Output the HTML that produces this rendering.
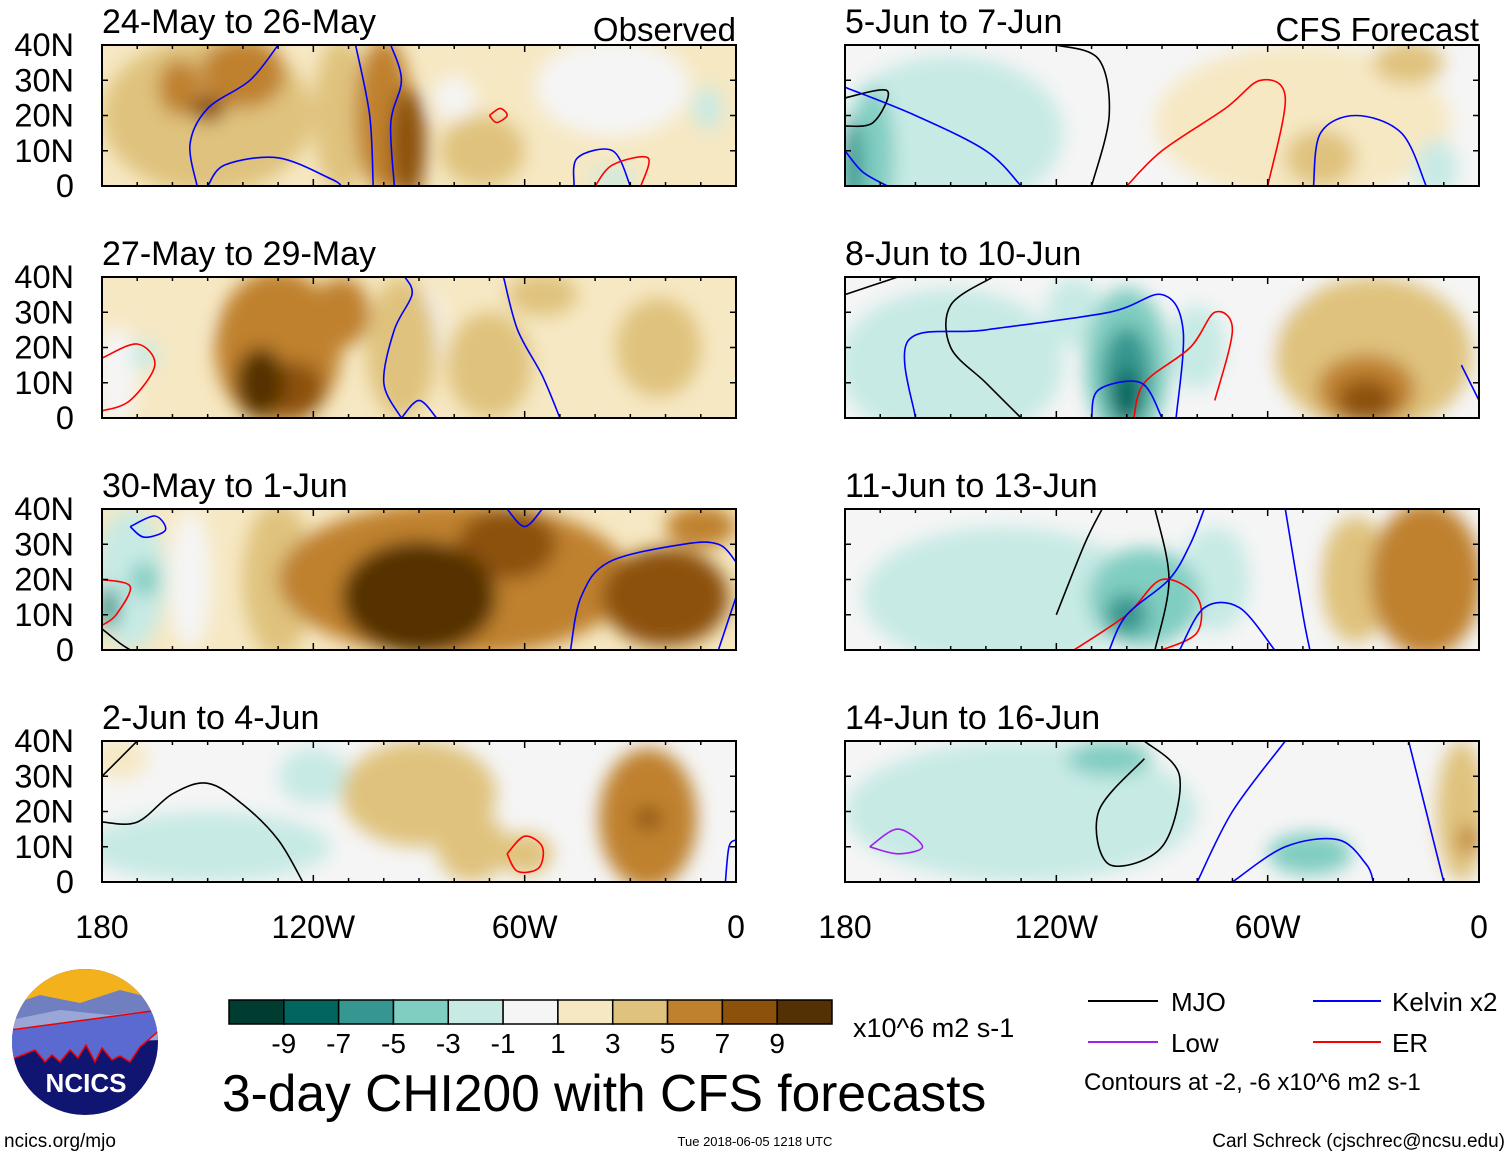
<!DOCTYPE html>
<html><head><meta charset="utf-8"><style>
body{margin:0;background:#fff;}
svg{display:block;font-family:"Liberation Sans",sans-serif;}
</style></head><body>
<svg id="fig" width="1510" height="1157" viewBox="0 0 1510 1157">
<defs>
<filter id="bl" x="-50%" y="-50%" width="200%" height="200%"><feGaussianBlur stdDeviation="9"/></filter>
<clipPath id="lgc"><circle cx="85" cy="1042" r="73"/></clipPath>
</defs>
<g id="panels"></g>
<g clip-path="url(#lgc)">
<rect x="10" y="965" width="150" height="160" fill="#0f1570"/>
<rect x="10" y="965" width="150" height="45" fill="#f3b21c"/>
<path d="M10 1005 L40 995 L80 1003 L120 990 L160 1000 L160 1030 L10 1040Z" fill="#6f7fbf"/>
<path d="M10 1020 L60 1010 L110 1015 L160 1010 L160 1040 L10 1045Z" fill="#9aa6d8"/>
<path d="M10 1060 L35 1050 L45 1062 L52 1055 L60 1062 L70 1050 L78 1058 L86 1045 L95 1062 L102 1048 L112 1060 L120 1056 L130 1062 L140 1047 L160 1030 L160 1010 L10 1030Z" fill="#5a6ad0" stroke="#e00" stroke-width="1.5"/>
</g>
<text x="86" y="1092" font-size="26" font-weight="bold" fill="#fff" text-anchor="middle">NCICS</text>
<text x="4" y="1147" font-size="19">ncics.org/mjo</text>
<text x="755" y="1146" font-size="13" text-anchor="middle">Tue 2018-06-05 1218 UTC</text>
<text x="1505" y="1147" font-size="19" text-anchor="end">Carl Schreck (cjschrec@ncsu.edu)</text>
<text x="222" y="1111" font-size="51.5">3-day CHI200 with CFS forecasts</text>
<g id="cbar"></g>
<text x="853" y="1037" font-size="27">x10^6 m2 s-1</text>
<g font-size="26">
<line x1="1088" y1="1001" x2="1158" y2="1001" stroke="#000" stroke-width="2"/><text x="1171" y="1011">MJO</text>
<line x1="1313" y1="1001" x2="1381" y2="1001" stroke="#0000ff" stroke-width="2"/><text x="1392" y="1011">Kelvin x2</text>
<line x1="1088" y1="1042" x2="1158" y2="1042" stroke="#a020f0" stroke-width="2"/><text x="1171" y="1052">Low</text>
<line x1="1313" y1="1042" x2="1381" y2="1042" stroke="#ff0000" stroke-width="2"/><text x="1392" y="1052">ER</text>
<text x="1084" y="1090" font-size="24">Contours at -2, -6 x10^6 m2 s-1</text>
</g>
</svg>
<script>
const cbLabels=["-9","-7","-5","-3","-1","1","3","5","7","9"];
const cbColors=["#003c30","#01665e","#35978f","#80cdc1","#c7eae5","#f5f5f5","#f6e8c3","#dfc27d","#bf812d","#8c510a","#543005"];
const latTicks=["40N","30N","20N","10N","0"];
const lonTicks=["180","120W","60W","0"];
const titles=["24-May to 26-May","27-May to 29-May","30-May to 1-Jun","2-Jun to 4-Jun","5-Jun to 7-Jun","8-Jun to 10-Jun","11-Jun to 13-Jun","14-Jun to 16-Jun"];
const bgVals=[2,2,2,0,0,0,0,0];
// blobs: [lon, lat, halfwidth deg, halfheight deg, value]
const blobs0=[[-150,20,30,22,4],[-112,20,8,22,4],[-140,32,12,10,6],[-158,28,6,8,6],[-150,22,5,4,8],[-100,20,8,22,6],[-93,12,5,16,8],[-165,15,6,5,0],[-128,25,6,6,0],[-35,28,22,14,0],[-72,10,12,10,4],[-80,25,6,6,0],[-35,2,6,3,-3],[-8,22,4,6,-2],[-145,5,12,6,4]];
const blobs1=[[-176,12,6,14,0],[-168,18,4,4,-3],[-130,20,18,22,6],[-112,30,8,10,6],[-135,10,7,10,10],[-125,8,8,8,8],[-95,20,10,20,4],[-88,25,5,12,0],[-70,15,12,15,4],[-55,35,10,6,4],[-22,20,12,14,4],[-160,30,10,10,2]];
const blobs2=[[-172,20,10,20,-2],[-168,20,4,5,-4],[-178,12,3,6,-6],[-155,20,6,20,0],[-130,20,10,22,4],[-80,20,50,22,6],[-90,15,22,16,10],[-65,30,14,10,8],[-50,12,6,10,4],[-20,15,18,14,8],[-10,35,10,6,6]];
const blobs3=[[-150,10,35,10,-2],[-170,22,12,10,-1],[-120,30,10,8,-2],[-90,25,22,15,4],[-75,10,10,10,4],[-25,18,14,20,6],[-25,18,4,3,8],[-60,8,8,6,4],[-175,35,8,6,2]];
const blobs4=[[-150,15,32,22,-2],[-172,8,6,20,-5],[-178,5,3,14,-7],[-145,25,8,8,0],[-50,18,42,22,2],[-45,8,10,8,4],[-20,35,10,6,4],[-12,5,6,8,-2]];
const blobs5=[[-150,15,32,22,-2],[-115,30,8,10,-2],[-100,15,12,22,-4],[-100,12,7,14,-6],[-100,6,4,8,-8],[-80,20,8,12,-2],[-55,28,8,12,0],[-30,18,28,22,4],[-32,8,14,10,6],[-32,5,8,6,8],[-150,35,15,5,0]];
const blobs6=[[-135,15,40,20,-2],[-95,15,16,14,-4],[-100,10,6,6,-6],[-75,20,10,15,-2],[-55,25,8,18,0],[-15,20,16,22,6],[-35,20,10,18,4],[-5,15,5,10,6]];
const blobs7=[[-130,20,50,20,-2],[-105,35,12,5,-4],[-90,20,8,6,-3],[-48,8,12,6,-4],[-5,20,7,20,4],[-3,12,3,4,6],[-155,5,12,5,0]];
const allBlobs=[blobs0,blobs1,blobs2,blobs3,blobs4,blobs5,blobs6,blobs7];
// contours: [color, [lon,lat,...]]
const contours=[
 [["#0000ff",[-153,0,-155,12,-150,22,-138,30,-130,40]],["#0000ff",[-150,0,-145,6,-130,8,-115,2,-112,0]],["#0000ff",[-103,0,-104,20,-108,40]],["#0000ff",[-97,0,-98,18,-95,30,-98,40]],["#ff0000",[-70,20,-67,22,-65,20,-68,18,-70,20]],["#0000ff",[-46,0,-45,8,-35,10,-30,0]],["#ff0000",[-40,0,-35,6,-25,8,-27,0]]],
 [["#ff0000",[-180,17,-170,21,-165,15,-172,5,-180,2]],["#0000ff",[-95,0,-100,10,-97,25,-92,35,-94,40]],["#0000ff",[-66,40,-62,25,-55,12,-50,0]],["#0000ff",[-95,0,-90,5,-85,0]]],
 [["#0000ff",[-172,35,-165,38,-162,34,-168,32,-172,35]],["#ff0000",[-180,20,-172,18,-176,10,-180,7]],["#000000",[-180,6,-175,2,-172,0]],["#0000ff",[-47,0,-44,15,-36,25,-15,30,-5,30,0,25]],["#0000ff",[-5,0,0,15]],["#0000ff",[-65,40,-60,35,-55,40]]],
 [["#000000",[-180,30,-170,40]],["#000000",[-180,17,-170,17,-160,25,-150,28,-140,22,-130,12,-123,0]],["#ff0000",[-65,8,-60,13,-55,10,-56,4,-62,3,-65,8]],["#0000ff",[-3,0,-2,10,0,12]]],
 [["#000000",[-180,25,-168,27,-172,18,-180,17]],["#0000ff",[-180,28,-160,20,-140,10,-130,0]],["#0000ff",[-180,10,-175,4,-168,0]],["#000000",[-120,40,-108,36,-105,20,-110,0]],["#ff0000",[-100,0,-90,10,-72,22,-62,30,-55,25,-60,0]],["#0000ff",[-47,0,-45,15,-35,20,-22,15,-15,0]]],
 [["#000000",[-180,35,-165,40]],["#000000",[-138,40,-150,32,-150,20,-140,10,-130,0]],["#0000ff",[-160,0,-162,22,-140,25,-105,30,-90,35,-84,25,-86,0]],["#ff0000",[-98,0,-95,10,-82,20,-75,30,-70,25,-75,5]],["#0000ff",[-110,0,-108,8,-96,10,-90,0]],["#0000ff",[0,5,-5,15]]],
 [["#000000",[-120,10,-112,30,-107,40]],["#000000",[-92,40,-88,20,-92,0]],["#ff0000",[-115,0,-100,10,-90,20,-80,15,-80,5,-90,0]],["#0000ff",[-105,0,-100,10,-88,20,-82,30,-78,40]],["#0000ff",[-85,0,-78,12,-68,12,-58,0]],["#0000ff",[-55,40,-50,10,-48,0]]],
 [["#a020f0",[-173,10,-165,15,-158,10,-165,8,-173,10]],["#000000",[-95,35,-108,20,-105,5,-90,10,-85,30,-95,40]],["#0000ff",[-80,0,-70,20,-55,40]],["#0000ff",[-70,0,-55,10,-40,12,-32,5,-30,0]],["#0000ff",[-10,0,-15,20,-20,40]]]
];
const NS='http://www.w3.org/2000/svg';
function mk(tag,attrs,parent){const e=document.createElementNS(NS,tag);for(const k in attrs)e.setAttribute(k,attrs[k]);parent.appendChild(e);return e;}
function colorFor(v){const i=Math.max(0,Math.min(10,Math.floor((v+11)/2)));return cbColors[i];}
function smooth(P){let d='M'+P[0][0].toFixed(1)+' '+P[0][1].toFixed(1);
  for(let i=0;i<P.length-1;i++){const p0=P[Math.max(0,i-1)],p1=P[i],p2=P[i+1],p3=P[Math.min(P.length-1,i+2)];
    d+=' C'+(p1[0]+(p2[0]-p0[0])/6).toFixed(1)+' '+(p1[1]+(p2[1]-p0[1])/6).toFixed(1)+' '+(p2[0]-(p3[0]-p1[0])/6).toFixed(1)+' '+(p2[1]-(p3[1]-p1[1])/6).toFixed(1)+' '+p2[0].toFixed(1)+' '+p2[1].toFixed(1);}
  return d;}
const W=634,H=141;
const lefts=[102,845],tops=[45,277,509,741];
const root=document.getElementById('panels');
for(let p=0;p<8;p++){
  const x0=lefts[Math.floor(p/4)],y0=tops[p%4];
  const lx=lon=>x0+(lon+180)/180*W, ly=lat=>y0+H-lat/40*H;
  const g=mk('g',{},root);
  
  
  const cp=mk('clipPath',{id:'c'+p},g);
  mk('rect',{x:x0,y:y0,width:W,height:H},cp);
  const f=mk('g',{'clip-path':'url(#c'+p+')'},g);
  mk('rect',{x:x0,y:y0,width:W,height:H,fill:colorFor(bgVals[p])},f);
  const bg=mk('g',{filter:'url(#bl)'},f);
  allBlobs[p].slice().sort((a,b)=>Math.abs(a[4])-Math.abs(b[4])).forEach(b=>{
    const e=mk('ellipse',{cx:lx(b[0]),cy:ly(b[1]),rx:b[2]/180*W,ry:b[3]/40*H,fill:colorFor(b[4])},bg);
    
    
  });
  contours[p].forEach(c=>{
    const pts=c[1];const P=[];
    for(let i=0;i<pts.length;i+=2)P.push([lx(pts[i]),ly(pts[i+1])]);
    const e=mk('path',{d:smooth(P),fill:'none',stroke:c[0],'stroke-width':1.6,'stroke-linejoin':'round'},f);
    
    
  });
  mk('rect',{x:x0,y:y0,width:W,height:H,fill:'none',stroke:'#000','stroke-width':2},g);
  for(let lon=-180;lon<=0;lon+=10){const t=lon%60===0?7:4;
    mk('line',{x1:lx(lon),y1:y0,x2:lx(lon),y2:y0+t,stroke:'#000','stroke-width':1.5},g);
    mk('line',{x1:lx(lon),y1:y0+H,x2:lx(lon),y2:y0+H-t,stroke:'#000','stroke-width':1.5},g);}
  for(let lat=0;lat<=40;lat+=10){
    mk('line',{x1:x0,y1:ly(lat),x2:x0+6,y2:ly(lat),stroke:'#000','stroke-width':1.5},g);
    mk('line',{x1:x0+W,y1:ly(lat),x2:x0+W-6,y2:ly(lat),stroke:'#000','stroke-width':1.5},g);}
  const t=mk('text',{x:x0,y:y0-12,'font-size':34},g);t.textContent=titles[p];
  
  
  if(p===0||p===4){const s=mk('text',{x:x0+W,y:y0-4,'font-size':33,'text-anchor':'end'},g);s.textContent=p===0?'Observed':'CFS Forecast';
    
    }
  if(p<4){latTicks.forEach((l,i)=>{const e=mk('text',{x:74,y:ly(40-i*10)+11,'font-size':32.5,'text-anchor':'end'},g);e.textContent=l;
    
    });}
  if(p%4===3){lonTicks.forEach((l,i)=>{const e=mk('text',{x:lx(-180+i*60),y:938,'font-size':32,'text-anchor':'middle'},g);e.textContent=l;
    
    });}
}
const cb=document.getElementById('cbar');const bw=603/11;
cbColors.forEach((c,i)=>{const r=mk('rect',{x:229+i*bw,y:1000,width:bw,height:24,fill:c,stroke:'#000','stroke-width':1.5},cb);
  
  });
cbLabels.forEach((l,i)=>{const e=mk('text',{x:229+(i+1)*bw,y:1053,'font-size':28,'text-anchor':'middle'},cb);e.textContent=l;
  
  });
</script>
</body></html>
